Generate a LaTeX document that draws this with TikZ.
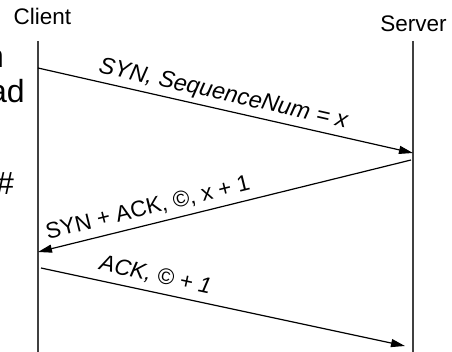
\documentclass[tikz,border=0pt]{standalone}
\usepackage{fontspec}
\setmainfont{Liberation Sans}
\usetikzlibrary{arrows.meta}
\begin{document}
\begin{tikzpicture}[x=1pt,y=-1pt,
  lifeline/.style={line width=1.3pt, draw=black!75},
  msg/.style={line width=1.2pt, -{Triangle[length=14pt,width=8pt]}},
  actor/.style={font=\fontsize{22.5}{27}\selectfont, anchor=base, inner sep=0pt},
  msglabel/.style={font=\fontsize{22.5}{27}\selectfont, sloped, inner sep=0pt, text depth=0pt},
  cut/.style={font=\fontsize{32}{38}\selectfont, anchor=base east, inner sep=0pt}
]
\useasboundingbox (0,0) rectangle (452,352);
\clip (0,0) rectangle (452,352);

% text running in from the left margin
\node[cut] (frag1) at (4,68) {n};
\node[cut] (frag2) at (25,103) {ad};
\node[cut] (frag3) at (14,195) {\#};

% participants
\node[actor] (client) at (42.5,25) {Client};
\node[actor] (server) at (413.5,32) {Server};

% lifelines
\coordinate (ctop) at (38,41);
\coordinate (cbot) at (38,360);
\coordinate (stop) at (413,41);
\coordinate (sbot) at (413,360);
\draw[lifeline] (ctop) -- (cbot);
\draw[lifeline] (stop) -- (sbot);

% message end points
\coordinate (c1) at (38,68);
\coordinate (s1) at (413,153);
\coordinate (s2) at (411,160);
\coordinate (c2) at (38,252);
\coordinate (c3) at (41,268);
\coordinate (s3) at (405,346);

% messages
\draw[msg] (c1) -- (s1);
\draw[msg] (s2) -- (c2);
\draw[msg] (c3) -- (s3);

% message labels
\path (c1) -- node[msglabel, pos=0.485, above=9pt, font=\fontsize{23.4}{28}\selectfont] (l1) {\itshape SYN, SequenceNum = x} (s1);
\path (c2) -- node[msglabel, pos=0.305, above=9.5pt] (l2) {SYN + ACK, ©, x + 1} (s2);
\path (c3) -- node[msglabel, pos=0.305, above=10pt] (l3) {\itshape ACK, © + 1} (s3);
\end{tikzpicture}
\end{document}
